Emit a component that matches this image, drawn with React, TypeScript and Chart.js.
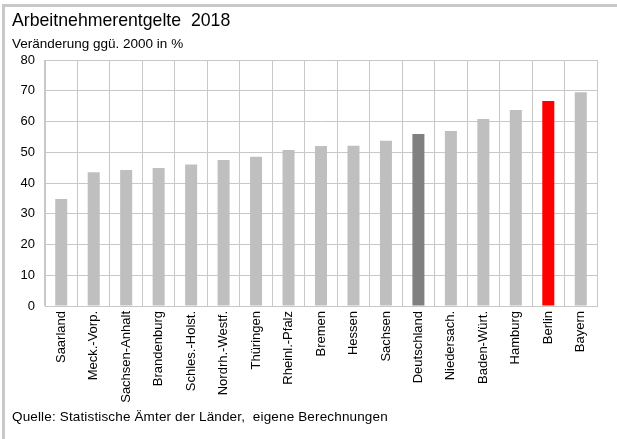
import React, { useEffect, useRef } from "react";
import { Chart, registerables } from "chart.js";

Chart.register(...registerables);

const categories = [
  "Saarland", "Meck.-Vorp.", "Sachsen-Anhalt", "Brandenburg", "Schles.-Holst.",
  "Nordrh.-Westf.", "Thüringen", "Rheinl.-Pfalz", "Bremen", "Hessen", "Sachsen",
  "Deutschland", "Niedersach.", "Baden-Würt.", "Hamburg", "Berlin", "Bayern",
];
const values = [34.8, 43.5, 44.2, 44.9, 46.0, 47.5, 48.5, 50.7, 52.0, 52.1, 53.7, 55.9, 56.9, 60.8, 63.7, 66.7, 69.5];
const barColors = categories.map((c) =>
  c === "Berlin" ? "#ff0000" : c === "Deutschland" ? "#808080" : "#bfbfbf"
);
const yMin = 0;
const yMax = 80;
const yStep = 10;

const titleText = "Arbeitnehmerentgelte  2018";
const subtitleText = "Veränderung ggü. 2000 in %";
const sourceText = "Quelle: Statistische Ämter der Länder,  eigene Berechnungen";

const FONT = '"Liberation Sans", Arial, sans-serif';

export default function App() {
  const ref = useRef<HTMLCanvasElement | null>(null);

  useEffect(() => {
    document.body.style.margin = "0";
    const ctx = ref.current;
    if (!ctx) return;
    const chart = new Chart(ctx, {
      type: "bar",
      data: {
        labels: categories,
        datasets: [
          {
            data: values,
            backgroundColor: barColors,
            borderWidth: 0,
            categoryPercentage: 1,
            barPercentage: 0.37,
          },
        ],
      },
      options: {
        responsive: false,
        animation: false,
        devicePixelRatio: 1,
        layout: { padding: { left: 0, top: 60, right: 20, bottom: 0 } },
        plugins: {
          legend: { display: false },
          tooltip: { enabled: false },
          title: { display: false },
        },
        scales: {
          x: {
            grid: { color: "#c8c8c8", lineWidth: 1, drawTicks: false, offset: true },
            border: { display: true, color: "#c8c8c8" },
            ticks: {
              color: "#000",
              font: { family: FONT, size: 13 },
              minRotation: 90,
              maxRotation: 90,
              padding: 5,
              autoSkip: false,
            },
            afterFit: (s: any) => {
              s.height = 133;
            },
          },
          y: {
            min: yMin,
            max: yMax,
            grid: { color: "#c8c8c8", lineWidth: 1, drawTicks: false },
            border: { display: true, color: "#c8c8c8" },
            ticks: {
              stepSize: yStep,
              color: "#000",
              font: { family: FONT, size: 13 },
              padding: 10,
            },
            afterFit: (s: any) => {
              s.width = 45;
            },
          },
        },
      },
    });
    return () => chart.destroy();
  }, []);

  const text = (top: number, size: number, content: string, spacing = 0) => (
    <div
      style={{
        position: "absolute",
        left: 12,
        top,
        fontFamily: FONT,
        fontSize: size,
        lineHeight: 1,
        letterSpacing: spacing,
        color: "#000",
        whiteSpace: "pre",
      }}
    >
      {content}
    </div>
  );

  return (
    <div style={{ position: "absolute", left: 0, top: 0, width: 617, height: 439, overflow: "hidden", background: "#fff" }}>
      <div
        style={{
          position: "absolute",
          left: 2,
          top: 4,
          width: 640,
          height: 432,
          borderLeft: "3px solid #c8c8c8",
          borderTop: "3px solid #c8c8c8",
          borderBottom: "3px solid #c8c8c8",
        }}
      />
      <canvas ref={ref} width={617} height={439} style={{ position: "absolute", left: 0, top: 0 }} />
      {text(12, 17.7, titleText)}
      {text(37, 13.5, subtitleText)}
      {text(410, 13.5, sourceText, 0.15)}
    </div>
  );
}
